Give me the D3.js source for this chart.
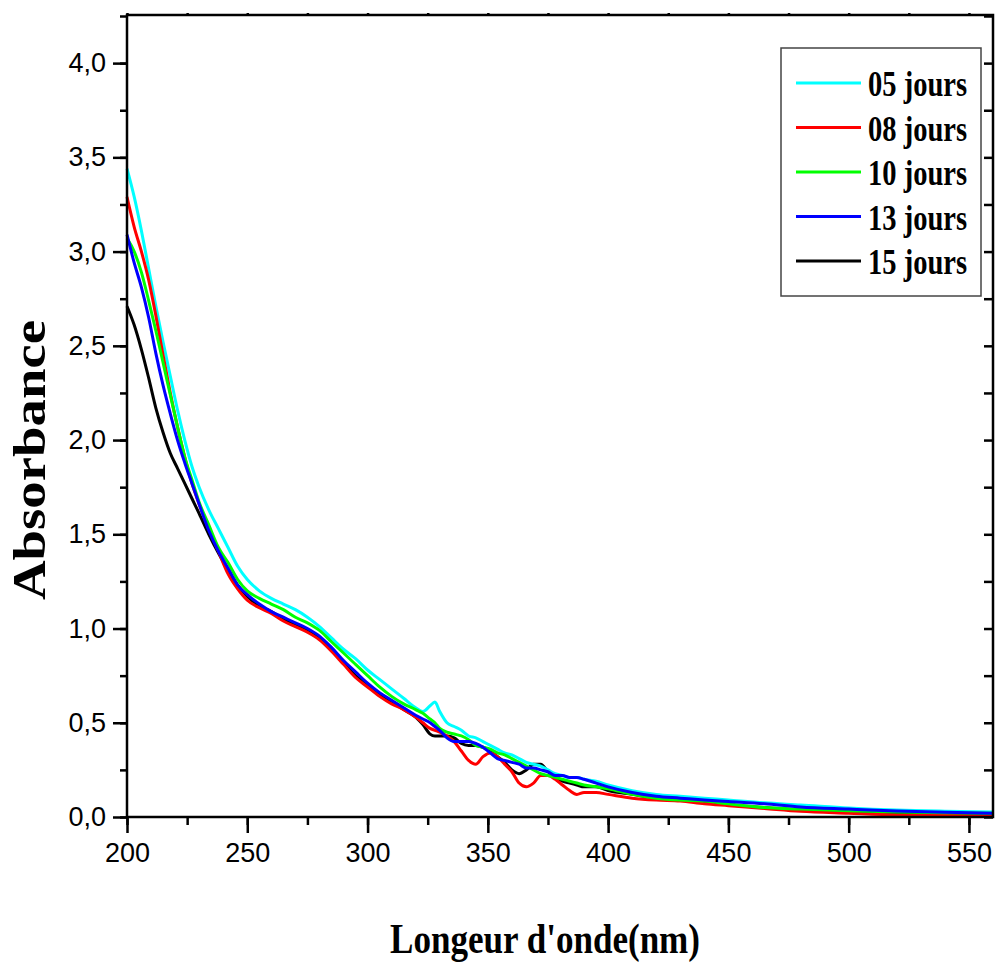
<!DOCTYPE html>
<html>
<head>
<meta charset="utf-8">
<script src="https://cdn.jsdelivr.net/npm/d3@7"></script>
<style>
    body { margin: 0; background: #fff; }
    svg { display: block; }
</style>
</head>
<body>
<div id="chart"></div>
<script>

    // Data
    var wavelengths = [200,203,206,209,212,215,218,221,224,227,230,234,238,242,246,250,255,260,265,270,275,280,285,290,295,300,305,310,315,320,323,326,328,330,333,336,339,342,345,348,351,354,357,360,363,366,369,372,375,378,381,384,387,390,395,400,410,420,430,440,450,465,480,500,520,540,560];

    var jours05 = [3.44,3.29,3.11,2.91,2.71,2.52,2.34,2.16,2.00,1.86,1.75,1.63,1.53,1.43,1.33,1.26,1.20,1.16,1.13,1.10,1.06,1.01,0.95,0.89,0.84,0.78,0.73,0.68,0.63,0.58,0.56,0.59,0.61,0.56,0.50,0.48,0.46,0.43,0.42,0.40,0.38,0.36,0.34,0.33,0.31,0.29,0.28,0.27,0.25,0.23,0.22,0.21,0.21,0.20,0.19,0.17,0.14,0.12,0.11,0.10,0.09,0.075,0.064,0.048,0.037,0.031,0.027];
    var jours08 = [3.29,3.13,3.00,2.85,2.66,2.45,2.25,2.07,1.91,1.77,1.66,1.53,1.41,1.29,1.21,1.15,1.11,1.08,1.04,1.01,0.98,0.94,0.88,0.81,0.74,0.69,0.64,0.60,0.57,0.53,0.50,0.47,0.46,0.45,0.43,0.40,0.35,0.30,0.28,0.32,0.34,0.32,0.28,0.24,0.18,0.16,0.18,0.22,0.22,0.20,0.17,0.14,0.12,0.13,0.13,0.12,0.10,0.09,0.085,0.07,0.06,0.045,0.03,0.02,0.011,0.008,0.005];
    var jours10 = [3.07,3.00,2.89,2.74,2.58,2.41,2.24,2.07,1.91,1.79,1.67,1.55,1.43,1.35,1.26,1.20,1.16,1.13,1.10,1.06,1.03,0.99,0.93,0.87,0.81,0.75,0.69,0.64,0.60,0.57,0.55,0.52,0.50,0.47,0.45,0.44,0.43,0.41,0.38,0.37,0.36,0.34,0.33,0.31,0.29,0.27,0.25,0.23,0.22,0.21,0.20,0.19,0.18,0.17,0.16,0.15,0.12,0.10,0.09,0.085,0.07,0.05,0.042,0.033,0.027,0.023,0.02];
    var jours13 = [3.09,2.94,2.81,2.65,2.46,2.29,2.14,2.00,1.88,1.77,1.66,1.52,1.41,1.32,1.23,1.18,1.13,1.09,1.06,1.03,1.00,0.96,0.90,0.83,0.77,0.71,0.66,0.62,0.58,0.54,0.52,0.50,0.48,0.46,0.42,0.40,0.40,0.40,0.39,0.37,0.34,0.31,0.30,0.29,0.28,0.26,0.26,0.25,0.24,0.22,0.22,0.21,0.21,0.20,0.18,0.16,0.13,0.11,0.10,0.09,0.082,0.07,0.053,0.042,0.032,0.025,0.02];
    var jours15 = [2.71,2.61,2.48,2.33,2.17,2.04,1.93,1.85,1.77,1.69,1.61,1.50,1.40,1.31,1.23,1.17,1.12,1.09,1.05,1.02,0.99,0.95,0.89,0.82,0.75,0.70,0.65,0.61,0.57,0.53,0.49,0.44,0.43,0.43,0.43,0.42,0.39,0.38,0.38,0.37,0.35,0.32,0.29,0.25,0.23,0.25,0.28,0.28,0.24,0.21,0.19,0.18,0.17,0.16,0.16,0.14,0.12,0.10,0.09,0.08,0.065,0.05,0.035,0.027,0.02,0.015,0.012];

    var seriesNames = ['05 jours', '08 jours', '10 jours', '13 jours', '15 jours'];
    var seriesColors = ['#00ffff', '#ff0000', '#00ff00', '#0000ff', '#000000'];
    var seriesValues = [jours05, jours08, jours10, jours13, jours15];

    var xTicks = [200, 250, 300, 350, 400, 450, 500, 550];
    var yTicks = [0, 0.5, 1.0, 1.5, 2.0, 2.5, 3.0, 3.5, 4.0];

    // Layout (plot box in page pixels)
    var width = 995, height = 965;
    var plotLeft = 127, plotRight = 993, plotTop = 16, plotBottom = 817;

    var svg = d3.select('#chart').append('svg')
        .attr('width', width)
        .attr('height', height);

    var x = d3.scaleLinear().domain([200, 560]).range([plotLeft, plotRight]);
    var y = d3.scaleLinear().domain([0, 4.25]).range([plotBottom, plotTop]);

    var commaFmt = function(d){ return d3.format('.1f')(d).replace('.', ','); };

    // curves (black underneath, the rest in legend order)
    var line = d3.line()
        .x(function(d){ return x(d[0]); })
        .y(function(d){ return y(d[1]); })
        .curve(d3.curveMonotoneX);

    var drawOrder = [4, 0, 1, 2, 3];
    drawOrder.forEach(function(i){
        var pts = wavelengths.map(function(w, j){ return [w, seriesValues[i][j]]; });
        svg.append('path')
            .attr('d', line(pts))
            .attr('fill', 'none')
            .attr('stroke', seriesColors[i])
            .attr('stroke-width', 3)
            .attr('stroke-linejoin', 'round');
    });

    // axes - minor and major ticks each get their own group
    var xMinor = d3.range(200, 561, 25);
    var yMinor = d3.range(0, 4.26, 0.25);

    svg.append('g').attr('transform', 'translate(0,' + plotBottom + ')')
        .call(d3.axisBottom(x).tickValues(xMinor).tickSize(8).tickFormat(''));
    svg.append('g').attr('transform', 'translate(0,' + plotBottom + ')')
        .call(d3.axisBottom(x).tickValues(xTicks).tickSize(16).tickPadding(10).tickFormat(d3.format('d')));

    svg.append('g').attr('transform', 'translate(' + plotLeft + ',0)')
        .call(d3.axisLeft(y).tickValues(yMinor).tickSize(7).tickFormat(''));
    svg.append('g').attr('transform', 'translate(' + plotLeft + ',0)')
        .call(d3.axisLeft(y).tickValues(yTicks).tickSize(14).tickPadding(7).tickFormat(commaFmt));

    // right side ticks point inward, top ones stick out a little
    svg.append('g').attr('transform', 'translate(' + plotRight + ',0)')
        .call(d3.axisLeft(y).tickValues(yMinor).tickSize(9).tickFormat(''));
    svg.append('g').attr('transform', 'translate(0,' + plotTop + ')')
        .call(d3.axisTop(x).tickValues(xMinor).tickSize(3).tickFormat(''));

    svg.selectAll('.domain').remove();
    svg.selectAll('.tick line').attr('stroke', '#000').attr('stroke-width', 2.5);
    svg.selectAll('.tick text')
        .attr('font-family', 'Liberation Sans, Arial, sans-serif')
        .attr('font-size', 27)
        .attr('fill', '#000');

    // frame
    svg.append('rect')
        .attr('x', plotLeft).attr('y', plotTop - 1)
        .attr('width', plotRight - plotLeft).attr('height', plotBottom - plotTop + 1)
        .attr('fill', 'none')
        .attr('stroke', '#000')
        .attr('stroke-width', 2.5);

    // axis titles
    svg.append('text')
        .attr('x', 545).attr('y', 953)
        .attr('text-anchor', 'middle')
        .attr('font-family', 'Liberation Serif, Times New Roman, serif')
        .attr('font-weight', 'bold')
        .attr('font-size', 42)
        .attr('textLength', 310)
        .attr('lengthAdjust', 'spacingAndGlyphs')
        .text("Longeur d'onde(nm)");

    svg.append('text')
        .attr('transform', 'translate(45,460) rotate(-90)')
        .attr('text-anchor', 'middle')
        .attr('font-family', 'Liberation Serif, Times New Roman, serif')
        .attr('font-weight', 'bold')
        .attr('font-size', 46)
        .attr('textLength', 280)
        .attr('lengthAdjust', 'spacingAndGlyphs')
        .text('Absorbance');

    // legend
    var legend = svg.append('g');
    legend.append('rect')
        .attr('x', 781).attr('y', 48)
        .attr('width', 200).attr('height', 248)
        .attr('fill', '#fff')
        .attr('stroke', '#444')
        .attr('stroke-width', 1.5);

    var rowY = d3.scaleLinear().domain([0, 4]).range([83, 261]);
    seriesNames.forEach(function(name, i){
        legend.append('line')
            .attr('x1', 796).attr('x2', 861)
            .attr('y1', rowY(i)).attr('y2', rowY(i))
            .attr('stroke', seriesColors[i])
            .attr('stroke-width', 3);
        legend.append('text')
            .attr('x', 868).attr('y', rowY(i) + 13)
            .attr('font-family', 'Liberation Serif, Times New Roman, serif')
            .attr('font-weight', 'bold')
            .attr('font-size', 36)
            .attr('textLength', 99)
            .attr('lengthAdjust', 'spacingAndGlyphs')
            .text(name);
    });

</script>
</body>
</html>
